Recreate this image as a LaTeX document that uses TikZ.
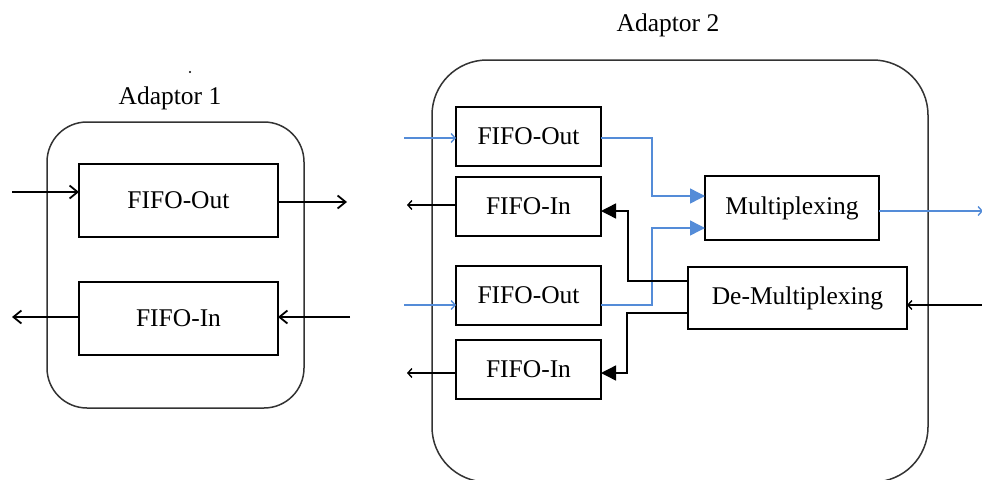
\documentclass[tikz,border=0pt]{standalone}
\usepackage{fontspec}
\setmainfont{Liberation Serif}
\usetikzlibrary{arrows.meta}
\definecolor{linkblue}{RGB}{84,140,216}
\newcommand{\boxfont}{\fontsize{25.5}{30}\selectfont}

\begin{document}
\begin{tikzpicture}[
  x=1pt, y=-1pt,
  fifo/.style={draw, line width=1.6pt, inner sep=0pt, outer sep=0pt, font=\boxfont, minimum width=145pt, minimum height=59pt},
  bigfifo/.style={fifo, minimum width=199pt, minimum height=73pt},
  adaptor/.style={draw=black!80, line width=1.5pt},
  lab/.style={font=\boxfont, inner sep=0pt},
  wire/.style={line width=1.4pt, {-Straight Barb[length=4pt,width=9pt]}},
  thick wire/.style={line width=1.8pt, {-Straight Barb[length=8pt,width=13pt]}},
  fed/.style={line width=1.4pt, -{Triangle[length=15pt,width=15pt]}},
  bluefed/.style={fed, draw=linkblue},
  bluewire/.style={wire, draw=linkblue}
]
\useasboundingbox (0,0) rectangle (982,479);

% Adaptor 1
\draw[adaptor, rounded corners=40pt] (47,122) rectangle (304,408);
\node[lab] (adapt1) at (170,98) {Adaptor 1};
\fill (190,72) circle (1.2pt);
\node[bigfifo] (a1out) at (178.5,200.5) {FIFO-Out};
\node[bigfifo] (a1in) at (178.5,318.5) {FIFO-In};

\coordinate (a1srcL) at (12,192);
\coordinate (a1dstR) at (347,202);
\coordinate (a1srcR) at (350,317);
\coordinate (a1dstL) at (12,317);
\draw[thick wire] (a1srcL) -- (a1srcL -| a1out.west);
\draw[thick wire] (a1dstR -| a1out.east) -- (a1dstR);
\draw[thick wire] (a1srcR) -- (a1srcR -| a1in.east);
\draw[thick wire] (a1dstL -| a1in.west) -- (a1dstL);

% Adaptor 2
\draw[adaptor, rounded corners=55pt] (432,60) rectangle (928,482);
\node[lab] (adapt2) at (668,25) {Adaptor 2};
\node[fifo] (out1) at (528.5,136.5) {FIFO-Out};
\node[fifo] (in1) at (528.5,206.5) {FIFO-In};
\node[fifo] (out2) at (528.5,295.5) {FIFO-Out};
\node[fifo] (in2) at (528.5,369.5) {FIFO-In};
\node[fifo, minimum width=174pt, minimum height=64pt] (mux) at (792,208) {Multiplexing};
\node[fifo, minimum width=219pt, minimum height=62pt] (demux) at (797.5,298) {De-Multiplexing};

% Outer links
\coordinate (o1src) at (404,138);
\coordinate (o2src) at (404,305);
\coordinate (i1dst) at (407,205);
\coordinate (i2dst) at (407,373);
\coordinate (muxdst) at (983,211);
\coordinate (demuxsrc) at (982,305);
\draw[bluewire] (o1src) -- (o1src -| out1.west);
\draw[bluewire] (o2src) -- (o2src -| out2.west);
\draw[wire] (i1dst -| in1.west) -- (i1dst);
\draw[wire] (i2dst -| in2.west) -- (i2dst);
\draw[bluewire] (muxdst -| mux.east) -- (muxdst);
\draw[wire] (demuxsrc) -- (demuxsrc -| demux.east);

% Inner links
\draw[bluefed] ([yshift=-1.5pt]out1.east) -- ++(51,0) |- ([yshift=12pt]mux.west);
\draw[bluefed] ([yshift=-9.5pt]out2.east) -- ++(51,0) |- ([yshift=-20pt]mux.west);
\draw[fed] ([yshift=17pt]demux.west) -- ++(-60,0) |- ([yshift=-4.5pt]in1.east);
\draw[fed] ([yshift=-15pt]demux.west) -- ++(-61,0) |- ([yshift=-3.5pt]in2.east);
\end{tikzpicture}
\end{document}
